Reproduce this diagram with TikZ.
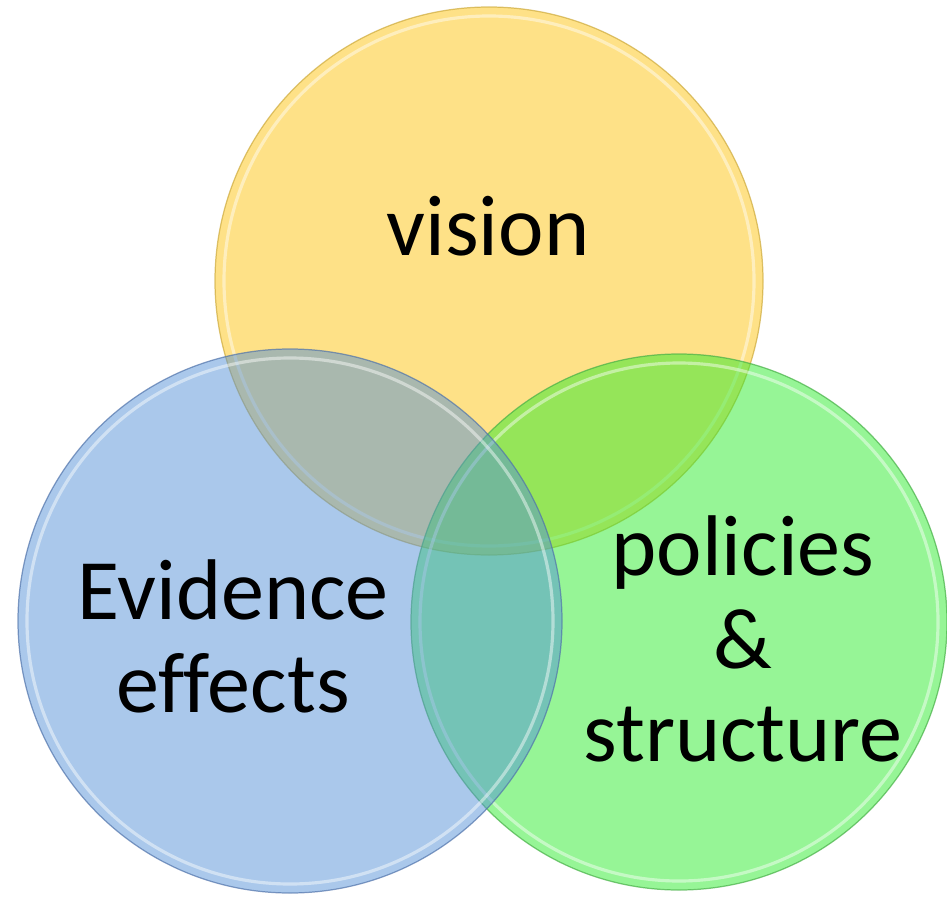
\documentclass[tikz,border=0pt]{standalone}
\usepackage{fontspec}
\setmainfont[Ligatures=NoCommon]{Carlito}

\begin{document}
\begin{tikzpicture}[
  disc/.style={fill opacity=0.5, draw opacity=0.7, line width=0.7pt},
  rim/.style={white, opacity=0.45, line width=1.8pt},
  word/.style={font=\fontsize{49}{53}\selectfont, align=center, text=black}]

\definecolor{visioncolor}{RGB}{253, 195, 15}
\definecolor{visionedge}{RGB}{205, 170, 60}
\definecolor{policycolor}{RGB}{45, 235, 45}
\definecolor{policyedge}{RGB}{70, 175, 70}
\definecolor{evidencecolor}{RGB}{85, 145, 215}
\definecolor{evidenceedge}{RGB}{80, 115, 170}

\useasboundingbox (0, 0) rectangle (18.94, 17.94);

% top circle
\draw[disc, fill=visioncolor, draw=visionedge] (9.78, 12.32) circle (5.48);
\draw[rim] (9.78, 12.32) circle (5.30);

% right circle
\draw[disc, fill=policycolor, draw=policyedge] (13.58, 5.50) circle (5.36);
\draw[rim] (13.58, 5.50) circle (5.18);

% left circle
\draw[disc, fill=evidencecolor, draw=evidenceedge] (5.80, 5.52) circle (5.44);
\draw[rim] (5.80, 5.52) circle (5.26);

\node[word] (vision) at (9.76, 13.42) {vision};
\node[word] (evidence) at (4.66, 5.22) {Evidence\\effects};
\node[word] (policies) at (14.86, 5.16) {policies\\\&\\structure};

\end{tikzpicture}
\end{document}
